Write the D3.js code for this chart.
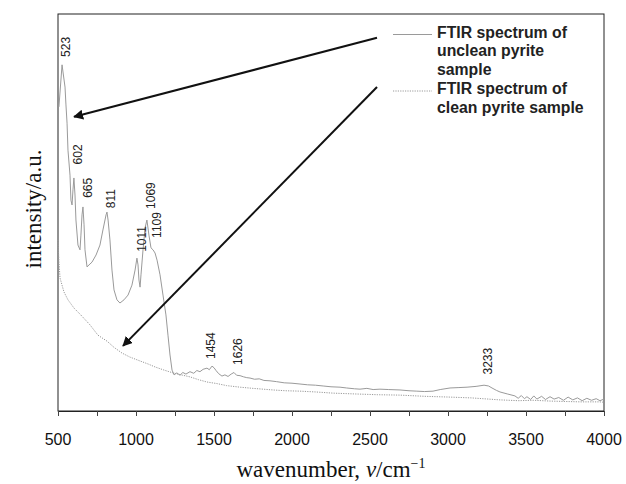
<!DOCTYPE html>
<html>
<head>
<meta charset="utf-8">
<script src="https://cdn.jsdelivr.net/npm/d3@7"></script>
<style>
  body { margin: 0; background: #fff; }
  svg { display: block; }
</style>
</head>
<body>
<svg id="chart" width="626" height="484"></svg>
<script>
// ---- data ----
const uncleanWn = [506,526,532,545,551,558,564,577,583,590,596,602,609,615,628,641,647,654,660,667,673,686,699,718,744,769,788,808,814,821,833,846,859,878,897,923,949,974,994,1006,1013,1019,1026,1032,1045,1058,1070,1083,1096,1109,1122,1135,1154,1173,1192,1205,1218,1231,1244,1262,1282,1300,1320,1346,1370,1390,1410,1430,1455,1470,1487,1500,1513,1530,1551,1570,1590,1610,1628,1645,1667,1690,1710,1731,1760,1790,1820,1859,1900,1950,2000,2051,2100,2150,2200,2250,2308,2350,2400,2436,2480,2520,2564,2620,2692,2750,2800,2850,2904,2950,3013,3070,3122,3180,3231,3260,3282,3310,3333,3380,3429,3450,3470,3490,3506,3530,3550,3570,3600,3625,3654,3680,3710,3740,3770,3800,3830,3860,3890,3920,3950,3974,4000];
const uncleanVal = [76.6,87.2,85.4,81.6,77.1,72.5,65.7,59.4,53.1,51.9,55.7,58.7,54.4,48.1,41.8,40.6,44.3,49.4,51.4,46.9,40.6,36.3,36.8,37.5,39.3,41.8,45.6,49.4,50.1,48.1,43.1,35.5,30.5,28.0,27.2,28.0,29.2,31.7,35.5,38.5,36.8,33.0,31.2,34.3,40.6,46.1,48.1,44.3,41.1,40.6,39.8,38.0,34.3,29.2,24.2,19.1,14.1,10.3,9.1,9.6,9.0,9.7,9.3,9.9,9.5,10.2,9.9,10.5,10.8,10.4,11.3,10.9,10.2,9.4,8.8,9.1,8.7,9.3,9.7,9.0,8.9,8.6,8.4,8.3,8.0,8.1,7.7,7.6,7.4,7.1,7.0,6.8,6.6,6.5,6.3,6.1,6.0,5.8,5.6,5.5,5.7,5.4,5.5,5.4,5.3,5.1,5.0,4.9,5.0,5.4,5.8,5.9,6.0,6.2,6.5,6.3,5.8,5.2,4.8,4.3,3.8,3.2,3.9,3.1,3.6,2.9,3.8,3.0,3.7,2.9,3.6,3.0,3.4,2.7,3.5,2.8,3.3,2.6,3.2,2.7,3.1,2.6,3.0];

const cleanWn = [500,506,513,538,564,603,641,705,756,814,860,910,960,1026,1080,1122,1180,1237,1290,1346,1400,1455,1520,1580,1667,1750,1878,1960,2051,2150,2263,2400,2550,2692,2850,3013,3150,3333,3450,3550,3654,3750,3850,3974,4000];
const cleanVal = [43.1,37.5,33.5,30.0,28.0,25.9,24.4,21.7,19.1,17.6,16.0,14.6,13.6,12.6,11.8,11.1,10.3,9.6,9.1,8.6,7.9,7.3,6.9,6.4,6.0,5.7,5.3,5.1,5.0,4.8,4.5,4.3,4.1,4.0,3.7,3.5,3.3,2.8,2.6,2.7,2.5,2.4,2.3,2.3,2.2];

const peakLabels = ["523","602","665","811","1011","1069","1109","1454","1626","3233"];
const peakWn     = [523, 602, 665, 811, 1011, 1069, 1109, 1454, 1626, 3233];
const peakLabelVal = [89.2, 62.1, 53.7, 51.1, 40.1, 50.9, 43.6, 13.1, 11.6, 9.2];

const xTicks = [500,750,1000,1250,1500,1750,2000,2250,2500,2750,3000,3250,3500,3750,4000];
const xTickLabels = [500,1000,1500,2000,2500,3000,3500,4000];

const legendLabels = [["FTIR spectrum of","unclean pyrite","sample"],["FTIR spectrum of","clean pyrite sample"]];

// arrows: start and end points in data coordinates
const arrowStartWn = [2545, 2545];
const arrowStartVal = [94.0, 81.6];
const arrowEndWn = [603, 917];
const arrowEndVal = [74.1, 16.4];

// ---- layout ----
const L = 58, R = 604, T = 14, B = 411;
const svg = d3.select("#chart");
const x = d3.scaleLinear().domain([500, 4000]).range([L, R]);
const y = d3.scaleLinear().domain([0, 100]).range([B, T]);
const lineColor = "#9a9a9a";

// frame
svg.append("rect").attr("x", L).attr("y", T).attr("width", R - L).attr("height", B - T)
  .attr("fill", "none").attr("stroke", "#222").attr("stroke-width", 1);

// x axis
const xAxis = d3.axisBottom(x).tickValues(xTicks).tickSize(5).tickFormat(() => "");
const gx = svg.append("g").attr("transform", `translate(0,${B})`).call(xAxis);
gx.select(".domain").attr("stroke", "#222");
gx.selectAll(".tick line").attr("stroke", "#444");
svg.append("g").selectAll("text").data(xTickLabels).join("text")
  .attr("x", d => x(d)).attr("y", 445)
  .attr("text-anchor", "middle")
  .attr("font-family", "Liberation Sans, Arial, sans-serif")
  .attr("font-size", 16).attr("fill", "#111")
  .text(d => d);

// axis titles
const xt = svg.append("text").attr("x", 331).attr("y", 477).attr("text-anchor", "middle")
  .attr("font-family", "Liberation Serif, Times New Roman, serif").attr("font-size", 23).attr("fill", "#111");
xt.append("tspan").text("wavenumber, ");
xt.append("tspan").attr("font-style", "italic").text("ν");
xt.append("tspan").text("/cm");
xt.append("tspan").attr("font-size", 14).attr("dy", -9).text("−1");

svg.append("text").attr("transform", "translate(41,209) rotate(-90)").attr("text-anchor", "middle")
  .attr("font-family", "Liberation Serif, Times New Roman, serif").attr("font-size", 23).attr("fill", "#111")
  .text("intensity/a.u.");

// lines
const unclean = uncleanWn.map((w, i) => [w, uncleanVal[i]]);
const clean = cleanWn.map((w, i) => [w, cleanVal[i]]);
const line = d3.line().x(d => x(d[0])).y(d => y(d[1]));

svg.append("path").datum(clean).attr("d", line).attr("fill", "none")
  .attr("stroke", lineColor).attr("stroke-width", 1).attr("stroke-dasharray", "1.2,1.2");
svg.append("path").datum(unclean).attr("d", line).attr("fill", "none")
  .attr("stroke", lineColor).attr("stroke-width", 1);

// peak labels (rotated)
svg.append("g").selectAll("text").data(peakLabels).join("text")
  .attr("transform", (d, i) => `translate(${x(peakWn[i]) + 8},${y(peakLabelVal[i])}) rotate(-90)`)
  .attr("font-family", "Liberation Sans, Arial, sans-serif").attr("font-size", 12).attr("fill", "#222")
  .text(d => d);

// arrows
const defs = svg.append("defs");
defs.append("marker").attr("id", "ah").attr("viewBox", "0 0 10 10").attr("refX", 9).attr("refY", 5)
  .attr("markerWidth", 5).attr("markerHeight", 5).attr("markerUnits", "strokeWidth").attr("orient", "auto")
  .append("path").attr("d", "M0,0 L10,5 L0,10 z").attr("fill", "#111");
svg.append("g").selectAll("line").data(arrowStartWn).join("line")
  .attr("x1", (d, i) => x(arrowStartWn[i])).attr("y1", (d, i) => y(arrowStartVal[i]))
  .attr("x2", (d, i) => x(arrowEndWn[i])).attr("y2", (d, i) => y(arrowEndVal[i]))
  .attr("stroke", "#111").attr("stroke-width", 2).attr("marker-end", "url(#ah)");

// legend
const lg = svg.append("g");
const legendY = [37.5, 94];
const legendDash = [null, "1.2,1.2"];
legendLabels.forEach((lines, k) => {
  lg.append("line").attr("x1", 393).attr("x2", 432).attr("y1", legendY[k] - 3).attr("y2", legendY[k] - 3)
    .attr("stroke", lineColor).attr("stroke-width", 1).attr("stroke-dasharray", legendDash[k]);
  lines.forEach((t, j) => {
    lg.append("text").attr("x", 437).attr("y", legendY[k] + j * 18.5)
      .attr("font-family", "Liberation Sans, Arial, sans-serif").attr("font-weight", "bold")
      .attr("font-size", 15.8).attr("fill", "#222").text(t);
  });
});
</script>
</body>
</html>
